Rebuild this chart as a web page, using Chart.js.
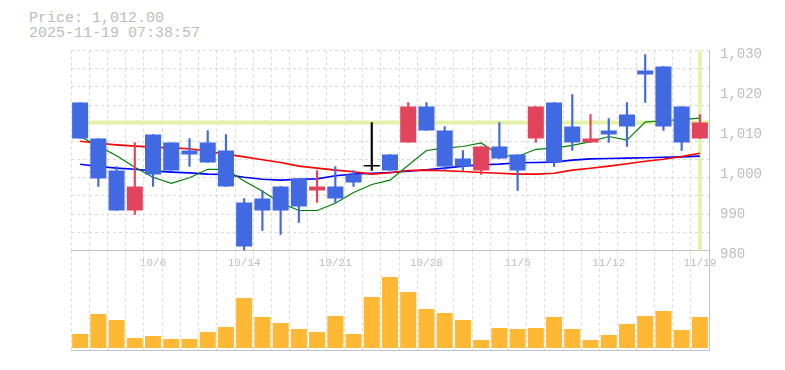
<!DOCTYPE html>
<html>
<head>
<meta charset="UTF-8">
<title>Price chart</title>
<script src="https://cdn.jsdelivr.net/npm/chart.js"></script>
<style>
    body { margin: 0; background: #fff; }
    #wrap { position: relative; width: 785px; height: 370px; overflow: hidden; }
    #head {
        position: absolute; left: 29px; top: 11px;
        font-family: 'Liberation Mono', monospace; font-size: 15px; line-height: 15px;
        color: #bdbdbd; white-space: pre;
    }
    canvas { position: absolute; left: 0; }
    #priceChart { top: 0; }
    #volChart { top: 250px; }
</style>
</head>
<body>
<div id="wrap">
    <div id="head">Price: 1,012.00
2025-11-19 07:38:57</div>
    <canvas id="priceChart" width="785" height="270"></canvas>
    <canvas id="volChart" width="785" height="110"></canvas>
</div>

<script>
    var dates = ['9/30', '10/1', '10/2', '10/3', '10/6', '10/7', '10/8', '10/9', '10/10', '10/14',
        '10/15', '10/16', '10/17', '10/20', '10/21', '10/22', '10/23', '10/24', '10/27', '10/28',
        '10/29', '10/30', '10/31', '11/4', '11/5', '11/6', '11/7', '11/10', '11/11', '11/12',
        '11/13', '11/14', '11/17', '11/18', '11/19'];

    var opens  = [1017, 1008, 1000, 990, 1009, 1007, 1005, 1007, 1005, 992,
        993, 996, 998, 995, 996, 999, 1001, 1004, 1007, 1016,
        1010, 1003, 1000, 1006, 1004, 1008, 1017, 1011, 1007, 1010,
        1014, 1025, 1026, 1016, 1008];
    var highs  = [1017, 1008, 1001, 1007, 1009, 1007, 1008, 1010, 1009, 993,
        995, 996, 998, 1000, 1001, 1000, 1012, 1004, 1017, 1017,
        1011, 1005, 1006, 1012, 1004, 1016, 1017, 1019, 1014, 1013,
        1017, 1029, 1026, 1016, 1014];
    var lows   = [1008, 996, 990, 989, 996, 1000, 1001, 1002, 996, 980,
        985, 984, 987, 992, 992, 996, 1000, 1000, 1007, 1010,
        1000, 1000, 999, 1003, 995, 1007, 1001, 1005, 1007, 1007,
        1006, 1017, 1010, 1005, 1008];
    var closes = [1008, 998, 990, 996, 999, 1000, 1004, 1002, 996, 981,
        990, 990, 991, 996, 993, 997, 1001, 1000, 1016, 1010,
        1001, 1001, 1006, 1003, 1000, 1016, 1002, 1007, 1008, 1009,
        1011, 1024, 1011, 1007, 1012];

    // moving averages
    var ma5  = [1008.5, 1006.1, 1003.7, 1000.8, 998.3, 996.8, 998.2, 1000.3, 1000.3, 997.4,
        994.8, 991.9, 990.0, 990.0, 991.8, 994.5, 996.5, 997.6, 1001.3, 1005.0,
        1005.6, 1006.0, 1006.9, 1003.8, 1003.5, 1005.3, 1005.6, 1006.3, 1007.2, 1008.5,
        1007.6, 1012.1, 1012.5, 1012.7, 1013.1];
    var ma25 = [1007.3, 1006.8, 1006.4, 1006.1, 1005.85, 1005.65, 1005.45, 1004.8, 1004.1, 1003.4,
        1002.7, 1002.0, 1001.1, 1000.6, 1000.1, 999.7, 999.1, 999.45, 1000.0, 1000.1,
        999.95, 999.75, 999.5, 999.3, 999.1, 999.1, 999.3, 1000.1, 1000.55, 1001.1,
        1001.7, 1002.3, 1002.8, 1003.5, 1004.3];
    var ma75 = [1001.55, 1001.0, 1000.6, 1000.3, 999.9, 999.6, 999.4, 999.1, 999.0, 998.3,
        997.8, 997.6, 997.8, 997.9, 998.7, 999.1, 999.3, 999.5, 999.8, 1000.2,
        1000.6, 1001.1, 1001.45, 1001.6, 1001.95, 1002.0, 1002.1, 1002.6, 1002.9, 1003.0,
        1003.1, 1003.2, 1003.3, 1003.4, 1003.6];

    var volumes = [14000, 34000, 28000, 10000, 12000, 9000, 9000, 16000, 21000, 50000,
        31000, 25000, 19000, 16000, 32000, 14000, 51000, 71000, 56000, 39000,
        35000, 28000, 8000, 20000, 19000, 20000, 31000, 19000, 8000, 13000,
        24000, 32000, 37000, 18000, 31000];

    var yTicks = [980, 990, 1000, 1010, 1020, 1030];
    var lastPrice = closes[closes.length - 1];

    var UP = '#e2445e', DOWN = '#4169e1', EVEN = '#000000';
    var GRID = '#dadada', AXIS = '#c2c2c2', TEXT = '#bdbdbd';
    var MONO = "'Liberation Mono', monospace";

    var candleColors = opens.map(function(o, i) {
        if (closes[i] > o) return UP;
        if (closes[i] < o) return DOWN;
        return EVEN;
    });

    // current price / last session highlight, under the candles
    var highlight = {
        id: 'highlight',
        beforeDatasetsDraw: function(chart) {
            var ctx = chart.ctx, area = chart.chartArea;
            var y = chart.scales.y.getPixelForValue(lastPrice);
            var x = chart.scales.x.getPixelForValue(dates.length - 1);
            ctx.save();
            ctx.strokeStyle = '#e3f2a8';
            ctx.lineWidth = 4;
            ctx.beginPath();
            ctx.moveTo(area.left, y);
            ctx.lineTo(area.right, y);
            ctx.stroke();
            ctx.lineWidth = 3.5;
            ctx.beginPath();
            ctx.moveTo(x, area.top);
            ctx.lineTo(x, area.bottom);
            ctx.stroke();
            ctx.restore();
        }
    };

    function maLine(data, color, width) {
        return {
            type: 'line', data: data, borderColor: color, borderWidth: width,
            pointRadius: 0, tension: 0, fill: false, order: 3
        };
    }

    new Chart(document.getElementById('priceChart'), {
        type: 'bar',
        data: {
            labels: dates,
            datasets: [
                {
                    data: lows.map(function(l, i) { return [l, highs[i]]; }),
                    backgroundColor: candleColors,
                    barThickness: 1.5, grouped: false, order: 1
                },
                {
                    data: opens.map(function(o, i) { return [o, closes[i]]; }),
                    backgroundColor: candleColors,
                    barPercentage: 0.88, categoryPercentage: 1,
                    minBarLength: 1.5, grouped: false, order: 0
                },
                maLine(ma5, '#008000', 1.2),
                maLine(ma25, '#ff0000', 1.6),
                maLine(ma75, '#0000ff', 1.6)
            ]
        },
        options: {
            responsive: false,
            animation: false,
            layout: { padding: { left: 71, top: 50.5, right: 0, bottom: 0 } },
            plugins: { legend: { display: false }, tooltip: { enabled: false } },
            scales: {
                x: {
                    offset: true,
                    grid: { offset: true, color: GRID, drawTicks: false },
                    border: { color: AXIS, dash: [3, 3] },
                    ticks: {
                        autoSkip: false, maxRotation: 0, padding: 6,
                        color: TEXT, font: { family: MONO, size: 11 },
                        callback: function(v, i) { return i % 5 === 4 ? dates[i] : ''; }
                    },
                    afterFit: function(s) { s.height = 19.5; }
                },
                y: {
                    position: 'right',
                    min: yTicks[0], max: yTicks[yTicks.length - 1],
                    grid: { display: false, drawTicks: false },
                    border: { color: AXIS },
                    ticks: {
                        stepSize: 10, padding: 11, labelOffset: 4,
                        color: TEXT, font: { family: MONO, size: 14 },
                        callback: function(v) { return v.toLocaleString('en-US'); }
                    },
                    afterFit: function(s) { s.width = 76; }
                },
                yGrid: {
                    position: 'left', min: 0, max: 11,
                    grid: { color: GRID, drawTicks: false },
                    border: { display: false, dash: [3, 3] },
                    ticks: { display: false, stepSize: 1 },
                    afterFit: function(s) { s.width = 0; }
                }
            }
        },
        plugins: [highlight]
    });

    new Chart(document.getElementById('volChart'), {
        type: 'bar',
        data: {
            labels: dates,
            datasets: [{
                data: volumes,
                backgroundColor: '#ffb833',
                barPercentage: 0.88, categoryPercentage: 1
            }]
        },
        options: {
            responsive: false,
            animation: false,
            layout: { padding: { left: 71, top: 0.5, right: 0, bottom: 10 } },
            plugins: { legend: { display: false }, tooltip: { enabled: false } },
            scales: {
                x: {
                    offset: true,
                    grid: { offset: true, color: GRID, drawTicks: false },
                    border: { color: AXIS, dash: [3, 3] },
                    ticks: { display: false },
                    afterFit: function(s) { s.height = 0; }
                },
                y: {
                    position: 'right', min: -2000, max: 97500,
                    grid: { display: false, drawTicks: false },
                    border: { color: AXIS },
                    ticks: { display: false },
                    afterFit: function(s) { s.width = 76; }
                }
            }
        }
    });
</script>
</body>
</html>
